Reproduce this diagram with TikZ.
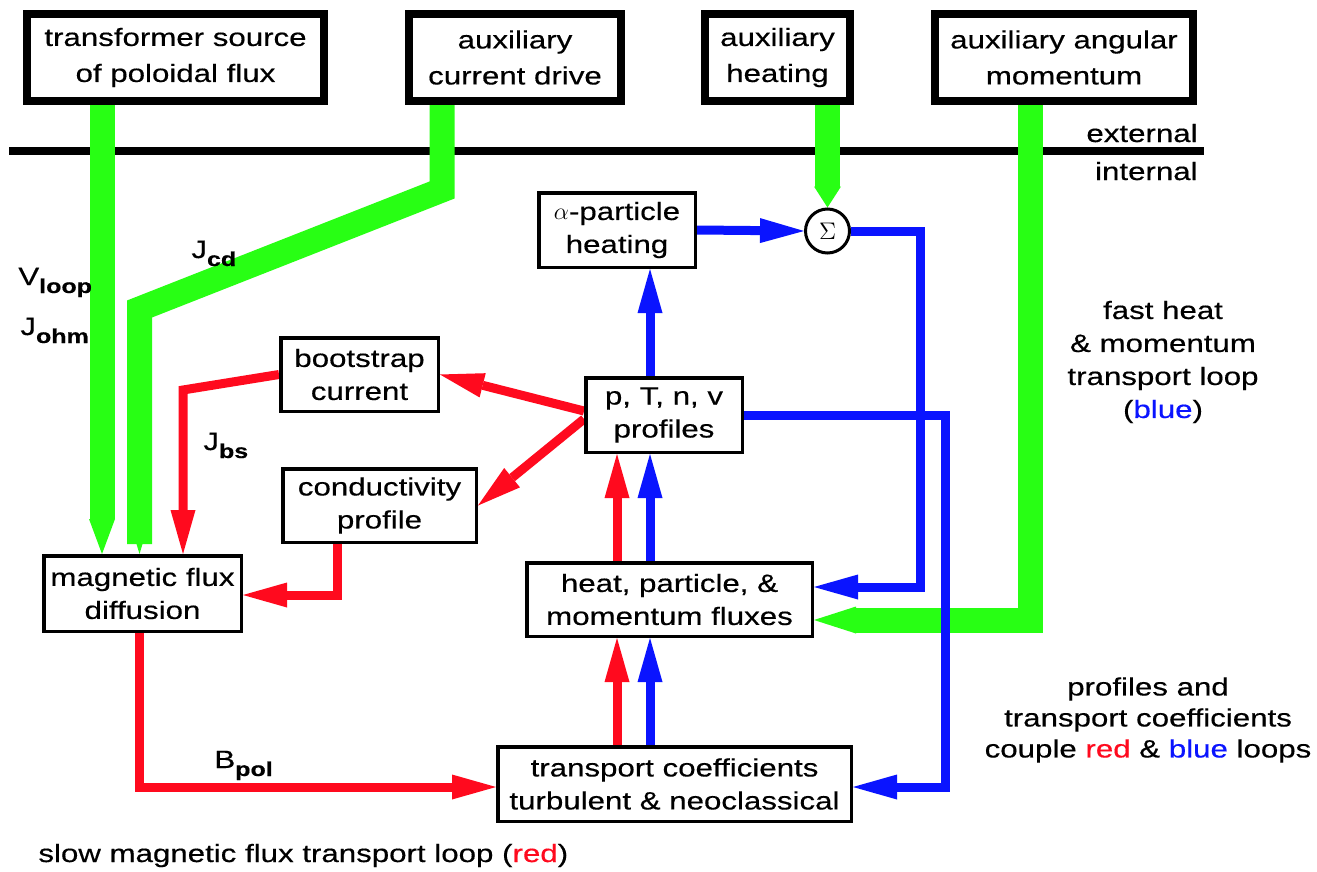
\documentclass[tikz,border=0pt]{standalone}
\usepackage{fontspec}
\setmainfont{Liberation Sans}[FakeStretch=1.25,FakeBold=0.4]
\usetikzlibrary{arrows.meta,backgrounds}
\definecolor{gr}{RGB}{40,255,20}
\definecolor{rd}{RGB}{255,10,30}
\definecolor{bl}{RGB}{10,20,255}
\newcommand\subs[1]{\raisebox{-4pt}{\fontsize{10}{12}\selectfont\bfseries #1}}
\begin{document}
\begin{tikzpicture}[x=0.5pt,y=-0.5pt,
  txt/.style={inner sep=0pt,font=\fontsize{12.5}{16.5}\selectfont},
  topbox/.style={draw,line width=4pt,inner sep=0pt,align=center,minimum height=43.5pt,font=\fontsize{12.5}{18}\selectfont},
  box/.style={draw,line width=1.75pt,inner sep=0pt,align=center,font=\fontsize{12.5}{16.5}\selectfont},
  tipstd/.style={-{Triangle[length=22pt,width=12.5pt,line width=0pt]}},
  redline/.style={draw=rd,line width=4.5pt,tipstd},
  blueline/.style={draw=bl,line width=4.5pt,tipstd},
  greenline/.style={draw=gr,line width=12.5pt},
  sepline/.style={draw=black,line width=4pt}
]
\useasboundingbox (0,0) rectangle (1317,872);
% boxes
\node[topbox,minimum width=148.5pt] (tr) at (175.5,57.5) {transformer source\\of poloidal flux};
\node[topbox,minimum width=106pt] (cd) at (515,57.5) {auxiliary\\current drive};
\node[topbox,minimum width=72.5pt] (ah) at (777.5,57.5) {auxiliary\\heating};
\node[topbox,minimum width=129pt] (am) at (1064,57.5) {auxiliary angular\\momentum};
\node[box,minimum width=78.25pt,minimum height=37.25pt] (al) at (617,230) {$\alpha$-particle\\heating};
\node[draw,circle,line width=1.5pt,minimum size=22pt,inner sep=0pt,font=\fontsize{12.5}{14}\selectfont] (sig) at (827.5,231) {$\Sigma$};
\node[box,minimum width=78.25pt,minimum height=37.25pt] (pr) at (664,415) {p, T, n, v\\profiles};
\node[box,minimum width=78.75pt,minimum height=36.75pt] (bs) at (359.5,374.5) {bootstrap\\current};
\node[box,minimum width=96.75pt,minimum height=36.75pt] (co) at (379.5,505.5) {conductivity\\profile};
\node[box,minimum width=98.75pt,minimum height=37.75pt] (mf) at (142.5,593.5) {magnetic flux\\diffusion};
\node[box,minimum width=142.75pt,minimum height=36.75pt] (hf) at (669.5,599.5) {heat, particle, \&\\momentum fluxes};
\node[box,minimum width=176.75pt,minimum height=37.25pt] (tc) at (674.5,784) {transport coefficients\\turbulent \& neoclassical};
% labels
\node[txt,anchor=base east] (ext) at (1198,142) {external};
\node[txt,anchor=base east] (int) at (1198,180) {internal};
\node[txt,anchor=base west] (vl) at (18,285) {V\subs{loop}};
\node[txt,anchor=base west] (jo) at (20,335) {J\subs{ohm}};
\node[txt,anchor=base west] (jc) at (191,258) {J\subs{cd}};
\node[txt,anchor=base west] (jb) at (203,450) {J\subs{bs}};
\node[txt,anchor=base west] (bp) at (214,768) {B\subs{pol}};
\node[txt,align=center] (lg1) at (1163,362) {fast heat\\\& momentum\\transport loop\\(\textcolor{bl}{blue})};
\node[txt,align=center,font=\fontsize{12.5}{15.5}\selectfont] (lg2) at (1148,720) {profiles and\\transport coefficients\\couple \textcolor{rd}{red} \& \textcolor{bl}{blue} loops};
\node[txt,anchor=base west] (lg3) at (38,862) {slow magnetic flux transport loop (\textcolor{rd}{red})};
% connectors
\begin{scope}[on background layer]
\fill[white] (0,0) rectangle (1317,872);
\coordinate (sl) at (9,151);
\coordinate (sr) at (1204,151);
\draw[sepline] (sl) -- (sr);
% green
\coordinate (t1) at (102,0);
\draw[greenline,-{Triangle[length=17.5pt,width=13pt,line width=0pt]}] (tr.south -| t1) -- (mf.north -| t1);
\coordinate (d1) at (442,190);
\coordinate (d2) at (139.5,309);
\draw[greenline,-{Triangle[length=5pt,width=3pt,line width=0pt]}] (cd.south -| d1) -- (d1) -- (d2) -- (d2 |- mf.north);
\draw[greenline,-{Triangle[length=10.5pt,width=13.5pt,line width=0pt]}] (sig.north |- ah.south) -- (sig.north);
\coordinate (g1) at (1030.5,620);
\draw[greenline,-{Triangle[length=21pt,width=13.5pt,line width=0pt]}] (g1 |- am.south) -- (g1) -- (hf.east |- g1);
% blue
\draw[blueline] (al.east) -- (sig.west);
\coordinate (s2) at (920,587);
\draw[blueline] (sig.east) -- (sig.east -| s2) -- (s2) -- (hf.east |- s2);
\coordinate (p2) at (945.5,787);
\draw[blueline] (pr.east) -- (pr.east -| p2) -- (p2) -- (tc.east |- p2);
\coordinate (bx) at (650,0);
\coordinate (rx) at (617,0);
\draw[blueline] (pr.north -| bx) -- (al.south -| bx);
\draw[blueline] (hf.north -| bx) -- (pr.south -| bx);
\draw[blueline] (tc.north -| bx) -- (hf.south -| bx);
% red
\draw[redline] (hf.north -| rx) -- (pr.south -| rx);
\draw[redline] (tc.north -| rx) -- (hf.south -| rx);
\coordinate (pa) at ([yshift=2pt]pr.west);
\coordinate (pb) at ([yshift=-2pt]pr.west);
\draw[redline] (pa) -- (bs.east);
\draw[redline] (pb) -- (co.east);
\coordinate (j1) at (183,390);
\draw[redline] (bs.west) -- (j1) -- (j1 |- mf.north);
\coordinate (c1) at (337,595);
\draw[redline] (c1 |- co.south) -- (c1) -- (mf.east |- c1);
\coordinate (b1) at (139,787);
\draw[redline] (b1 |- mf.south) -- (b1) -- (tc.west |- b1);
\end{scope}
\end{tikzpicture}
\end{document}
